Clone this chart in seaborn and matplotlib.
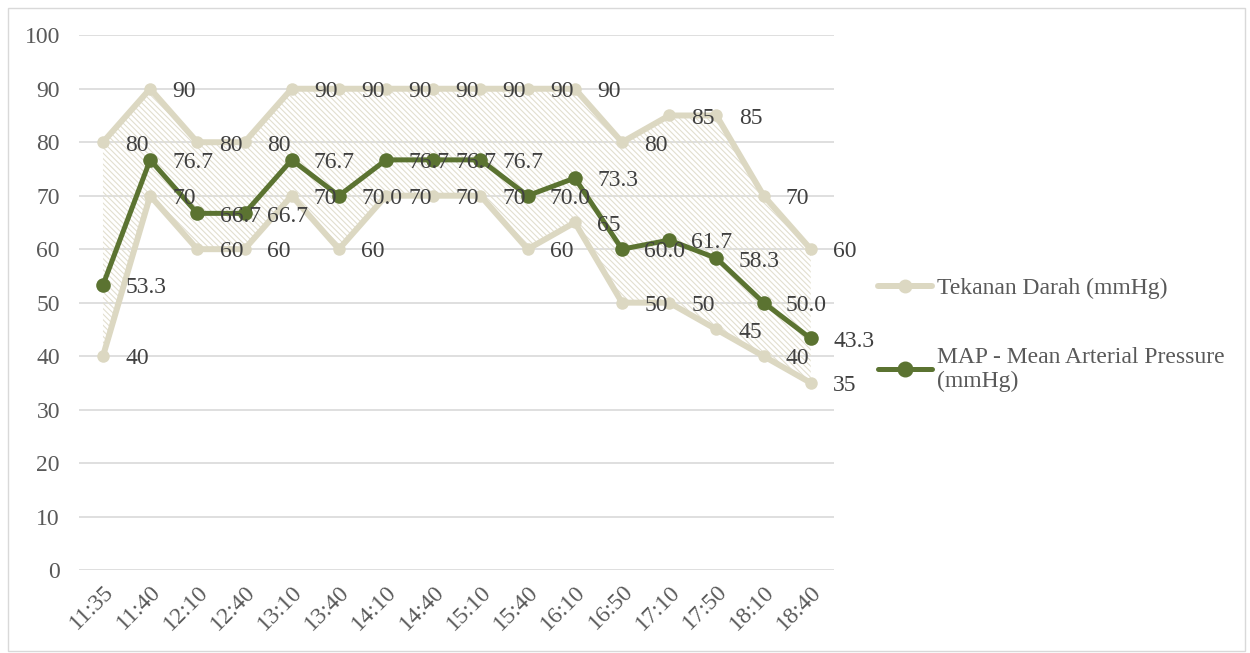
import numpy as np
import pandas as pd
import matplotlib.pyplot as plt
import seaborn as sns
from matplotlib.patches import Rectangle

# Data
waktu = ["11:35", "11:40", "12:10", "12:40", "13:10", "13:40", "14:10", "14:40",
         "15:10", "15:40", "16:10", "16:50", "17:10", "17:50", "18:10", "18:40"]
sistolik = [80, 90, 80, 80, 90, 90, 90, 90, 90, 90, 90, 80, 85, 85, 70, 60]
diastolik = [40, 70, 60, 60, 70, 60, 70, 70, 70, 60, 65, 50, 50, 45, 40, 35]
map_values = [53.3, 76.7, 66.7, 66.7, 76.7, 70.0, 76.7, 76.7, 76.7, 70.0, 73.3,
              60.0, 61.7, 58.3, 50.0, 43.3]

sns.set_style("white")
plt.rcParams['font.family'] = ['Liberation Serif', 'DejaVu Serif']
plt.rcParams['hatch.linewidth'] = 0.8

tan = "#dcd8c2"
green = "#5b7331"
grey_txt = "#595959"
fs = 17

df = pd.DataFrame({"Waktu": waktu, "Sistolik": sistolik,
                   "Diastolik": diastolik, "MAP": map_values})
x = np.arange(len(waktu))

fig = plt.figure(figsize=(12.5, 6.53), dpi=100)
ax = fig.add_axes([0.0635, 0.127, 0.604, 0.819])

# hatched band between systolic and diastolic
ax.fill_between(x, df["Diastolik"], df["Sistolik"], facecolor="none",
                edgecolor="#e2dfcf", hatch="\\\\\\\\\\\\", linewidth=0, zorder=1)

sns.lineplot(x=x, y=df["Sistolik"], ax=ax, color=tan, linewidth=4.3,
             marker="o", markersize=9, markeredgewidth=0, zorder=2)
sns.lineplot(x=x, y=df["Diastolik"], ax=ax, color=tan, linewidth=4.3,
             marker="o", markersize=9, markeredgewidth=0, zorder=2)
sns.lineplot(x=x, y=df["MAP"], ax=ax, color=green, linewidth=3.6,
             marker="o", markersize=10.5, markeredgewidth=0, zorder=3)

# data labels to the right of each point
for i in x:
    for val, fmt in ((sistolik[i], "{:.0f}"), (diastolik[i], "{:.0f}"),
                     (map_values[i], "{:.1f}")):
        ax.annotate(fmt.format(val), (i, val), xytext=(16, -2),
                    textcoords="offset points", ha="left", va="center",
                    fontsize=fs, color="#404040", zorder=4)

ax.set_xlim(-0.5, len(waktu) - 0.5)
ax.set_ylim(0, 100)
ax.set_yticks(range(0, 101, 10))
ax.set_xticks(x)
ax.set_xticklabels(waktu, rotation=45, ha="right", rotation_mode="anchor")
ax.tick_params(axis="both", labelsize=fs, labelcolor=grey_txt, length=0)
ax.tick_params(axis="y", pad=14)
ax.tick_params(axis="x", pad=8)
ax.grid(axis="y", color="#d9d9d9", linewidth=1.2)
ax.set_axisbelow(True)
for s in ax.spines.values():
    s.set_visible(False)
ax.set_xlabel("")
ax.set_ylabel("")

h1 = plt.Line2D([], [], color=tan, linewidth=4.3, marker="o", markersize=9)
h2 = plt.Line2D([], [], color=green, linewidth=3.6, marker="o", markersize=10.5)
fig.legend([h1, h2], ["Tekanan Darah (mmHg)", "MAP - Mean Arterial Pressure\n(mmHg)"],
           loc="upper left", bbox_to_anchor=(0.685, 0.607), frameon=False,
           fontsize=fs, labelcolor=grey_txt, handlelength=2.3, handletextpad=0.2,
           labelspacing=2.0)

fig.patches.append(Rectangle((0.006, 0.003), 0.99, 0.985, transform=fig.transFigure,
                             fill=False, edgecolor="#d9d9d9", linewidth=1))

plt.savefig("out.png", dpi=100)
